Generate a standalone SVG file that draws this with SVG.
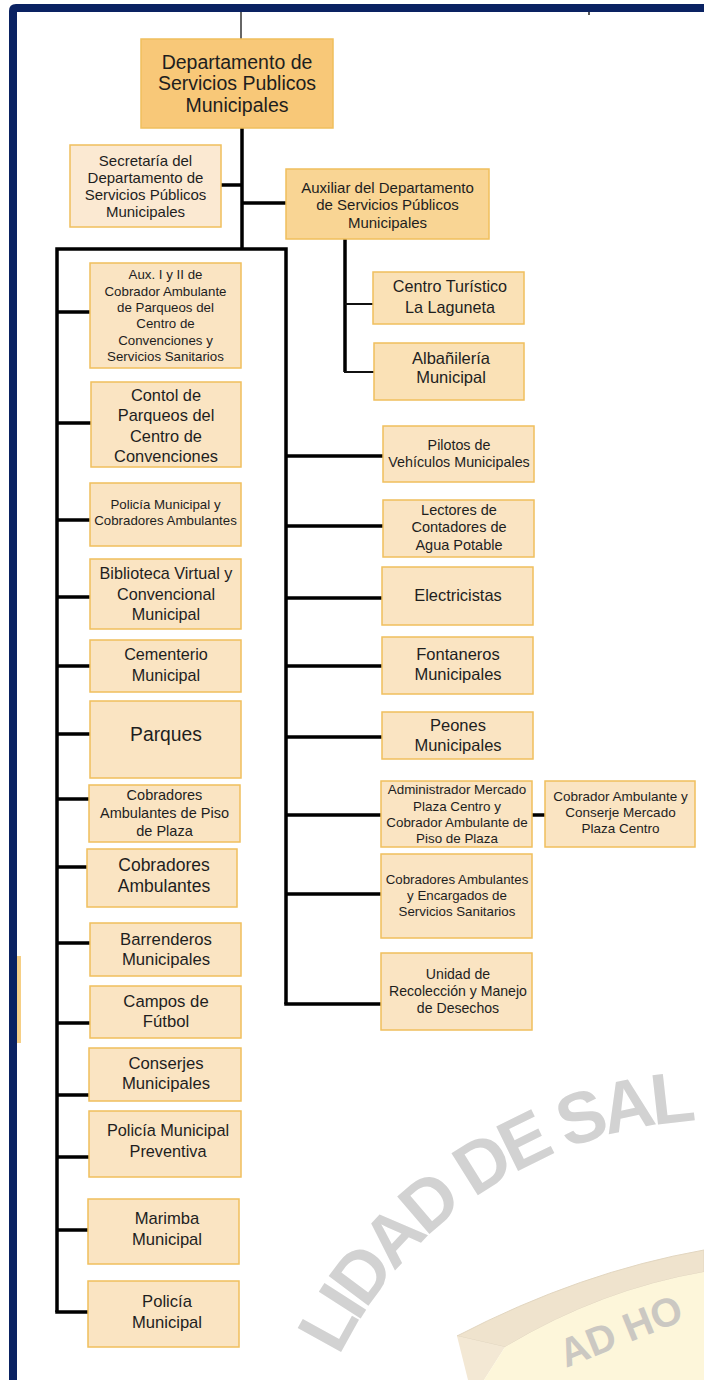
<svg xmlns="http://www.w3.org/2000/svg" width="704" height="1380" viewBox="0 0 704 1380">
<style>
.bx{stroke:#f0bf5c;stroke-width:1.5}
.f0{fill:#f8c878}
.f1{fill:#fae4c2}
.f2{fill:#fbe9d2}
.f3{fill:#f9d594}
.f4{fill:#fae1b6}
.t{font-family:"Liberation Sans",Arial,sans-serif;fill:#1e1e1e;text-anchor:middle}
.c{stroke:#000;stroke-width:3.5;fill:none;stroke-linecap:butt}
.c2{stroke:#111;stroke-width:2;fill:none}
.wm{font-family:"Liberation Sans",Arial,sans-serif;font-weight:bold;fill:#d2d2d2}
</style>
<rect x="0" y="0" width="704" height="1380" fill="#ffffff"/>
<defs>
<path id="arc" d="M309.5,1435 A425,425 0 0 1 932.5,1177"/>
</defs>
<g id="watermark">
<text class="wm" font-size="72" letter-spacing="-5"><textPath href="#arc" startOffset="84">LIDAD DE SAL</textPath></text>
<path d="M457,1336 Q580,1272 704,1250 L704,1272 Q600,1290 505,1347 Z" fill="#efe3cd" stroke="#e2d6c0" stroke-width="1"/>
<path d="M457,1336 L505,1347 L484,1380 L468,1380 Z" fill="#f3e8d4"/>
<path d="M505,1347 Q600,1290 704,1272 L704,1380 L484,1380 Z" fill="#fdf6da"/>
<text class="wm" font-size="40" style="fill:#cbc8c2" transform="translate(566,1368) rotate(-22)">AD HO</text>
</g>
<g id="frame">
<path d="M704,4 L16,4 Q9,4 9,11 L9,1380 L17,1380 L17,12 L704,12 Z" fill="#0a2262"/>
<line x1="589" y1="12" x2="589" y2="15" stroke="#222" stroke-width="1.5"/>
<rect x="17" y="956" width="4" height="87" fill="#f6cf85"/>
</g>
<g id="connectors">
<line x1="241" y1="12" x2="241" y2="39" stroke="#333" stroke-width="1.5"/>
<path class="c" d="M242,128 V249"/>
<path class="c" d="M221,185 H242"/>
<path class="c" d="M242,203 H286"/>
<path class="c" d="M345,239 V372"/>
<path class="c2" d="M345,304 H373"/>
<path class="c2" d="M344,372 H374"/>
<path class="c" d="M57,1312 V249 H286 V1004"/>
<path class="c" d="M57,312 H90 M57,423 H91 M57,520 H90 M57,597 H90 M57,666 H90 M57,734 H90 M57,799 H89 M57,867 H87 M57,943 H90 M57,1023 H90 M57,1095 H89 M57,1157 H89 M57,1230 H88 M55.25,1312 H88"/>
<path class="c" d="M286,456 H383 M286,526 H383 M286,598 H382 M286,666 H382 M286,737 H382 M286,815 H381 M286,894 H381 M284.25,1004 H381"/>
<path class="c" d="M532,815 H545"/>
</g>
<g id="n-main"><rect class="bx f0" x="141" y="39" width="192" height="89"/>
<text class="t" font-size="19.5"><tspan x="237" y="68.8">Departamento de</tspan><tspan x="237" y="90.3">Servicios Publicos</tspan><tspan x="237" y="111.8">Municipales</tspan></text></g>
<g id="n-secretaria"><rect class="bx f2" x="70" y="145" width="151" height="82"/>
<text class="t" font-size="15"><tspan x="145.5" y="165.8">Secretaría del</tspan><tspan x="145.5" y="182.8">Departamento de</tspan><tspan x="145.5" y="199.8">Servicios Públicos</tspan><tspan x="145.5" y="216.8">Municipales</tspan></text></g>
<g id="n-auxiliar"><rect class="bx f3" x="286" y="169" width="203" height="70"/>
<text class="t" font-size="15"><tspan x="387.5" y="192.8">Auxiliar del Departamento</tspan><tspan x="387.5" y="210.3">de Servicios Públicos</tspan><tspan x="387.5" y="227.8">Municipales</tspan></text></g>
<g id="n-aux12"><rect class="bx f1" x="90" y="263" width="151" height="105"/>
<text class="t" font-size="13.3"><tspan x="165.5" y="279.2">Aux. I y II de</tspan><tspan x="165.5" y="295.6">Cobrador Ambulante</tspan><tspan x="165.5" y="312">de Parqueos del</tspan><tspan x="165.5" y="328.4">Centro de</tspan><tspan x="165.5" y="344.8">Convenciones y</tspan><tspan x="165.5" y="361.2">Servicios Sanitarios</tspan></text></g>
<g id="n-contol"><rect class="bx f1" x="91" y="382" width="150" height="85"/>
<text class="t" font-size="16.4"><tspan x="166" y="400.5">Contol de</tspan><tspan x="166" y="421">Parqueos del</tspan><tspan x="166" y="441.5">Centro de</tspan><tspan x="166" y="462">Convenciones</tspan></text></g>
<g id="n-policia-cobradores"><rect class="bx f1" x="90" y="483" width="151" height="63"/>
<text class="t" font-size="13.3"><tspan x="165.5" y="509">Policía Municipal y</tspan><tspan x="165.5" y="524.7">Cobradores Ambulantes</tspan></text></g>
<g id="n-biblioteca"><rect class="bx f1" x="90" y="559" width="151" height="70"/>
<text class="t" font-size="16.2"><tspan x="166" y="579.4">Biblioteca Virtual y</tspan><tspan x="166" y="600">Convencional</tspan><tspan x="166" y="619.7">Municipal</tspan></text></g>
<g id="n-cementerio"><rect class="bx f1" x="90" y="640" width="151" height="52"/>
<text class="t" font-size="16.2"><tspan x="166" y="660.4">Cementerio</tspan><tspan x="166" y="681">Municipal</tspan></text></g>
<g id="n-parques"><rect class="bx f1" x="90" y="701" width="151" height="77"/>
<text class="t" font-size="19.3"><tspan x="166" y="740.8">Parques</tspan></text></g>
<g id="n-cobradores-piso"><rect class="bx f1" x="89" y="785" width="151" height="57"/>
<text class="t" font-size="14.5"><tspan x="164.5" y="800.4">Cobradores</tspan><tspan x="164.5" y="818.4">Ambulantes de Piso</tspan><tspan x="164.5" y="835.8">de Plaza</tspan></text></g>
<g id="n-cobradores-amb"><rect class="bx f1" x="87" y="849" width="150" height="58"/>
<text class="t" font-size="17.5"><tspan x="164" y="871.4">Cobradores</tspan><tspan x="164" y="892.1">Ambulantes</tspan></text></g>
<g id="n-barrenderos"><rect class="bx f1" x="90" y="923" width="151" height="53"/>
<text class="t" font-size="16.7"><tspan x="166" y="944.8">Barrenderos</tspan><tspan x="166" y="965.2">Municipales</tspan></text></g>
<g id="n-campos"><rect class="bx f1" x="90" y="986" width="151" height="52"/>
<text class="t" font-size="16.7"><tspan x="166" y="1006.5">Campos de</tspan><tspan x="166" y="1027.2">Fútbol</tspan></text></g>
<g id="n-conserjes"><rect class="bx f1" x="89" y="1048" width="152" height="53"/>
<text class="t" font-size="16.7"><tspan x="166" y="1068.5">Conserjes</tspan><tspan x="166" y="1089.2">Municipales</tspan></text></g>
<g id="n-preventiva"><rect class="bx f1" x="89" y="1111" width="152" height="66"/>
<text class="t" font-size="16.3"><tspan x="168" y="1135.7">Policía Municipal</tspan><tspan x="168" y="1156.7">Preventiva</tspan></text></g>
<g id="n-marimba"><rect class="bx f1" x="88" y="1199" width="151" height="65"/>
<text class="t" font-size="16.6"><tspan x="167" y="1224.1">Marimba</tspan><tspan x="167" y="1244.8">Municipal</tspan></text></g>
<g id="n-policia"><rect class="bx f1" x="88" y="1281" width="151" height="66"/>
<text class="t" font-size="16.6"><tspan x="167" y="1306.5">Policía</tspan><tspan x="167" y="1327.5">Municipal</tspan></text></g>
<g id="n-centro"><rect class="bx f4" x="373" y="272" width="151" height="52"/>
<text class="t" font-size="16.2"><tspan x="450" y="292.4">Centro Turístico</tspan><tspan x="450" y="313.3">La Laguneta</tspan></text></g>
<g id="n-albanileria"><rect class="bx f4" x="374" y="343" width="150" height="57"/>
<text class="t" font-size="16.5"><tspan x="451" y="364">Albañilería</tspan><tspan x="451" y="383">Municipal</tspan></text></g>
<g id="n-pilotos"><rect class="bx f1" x="383" y="426" width="151" height="56"/>
<text class="t" font-size="14.3"><tspan x="459" y="449.7">Pilotos de</tspan><tspan x="459" y="467">Vehículos Municipales</tspan></text></g>
<g id="n-lectores"><rect class="bx f1" x="383" y="500" width="151" height="57"/>
<text class="t" font-size="14.5"><tspan x="459" y="515.1">Lectores de</tspan><tspan x="459" y="532.4">Contadores de</tspan><tspan x="459" y="550.1">Agua Potable</tspan></text></g>
<g id="n-electricistas"><rect class="bx f1" x="382" y="567" width="151" height="58"/>
<text class="t" font-size="16.4"><tspan x="458" y="601.4">Electricistas</tspan></text></g>
<g id="n-fontaneros"><rect class="bx f1" x="382" y="637" width="151" height="57"/>
<text class="t" font-size="16.5"><tspan x="458" y="659.8">Fontaneros</tspan><tspan x="458" y="680.1">Municipales</tspan></text></g>
<g id="n-peones"><rect class="bx f1" x="382" y="712" width="151" height="47"/>
<text class="t" font-size="16.5"><tspan x="458" y="730.8">Peones</tspan><tspan x="458" y="750.8">Municipales</tspan></text></g>
<g id="n-administrador"><rect class="bx f1" x="381" y="781" width="151" height="66"/>
<text class="t" font-size="13.4"><tspan x="457" y="794">Administrador Mercado</tspan><tspan x="457" y="810.7">Plaza Centro y</tspan><tspan x="457" y="827.4">Cobrador Ambulante de</tspan><tspan x="457" y="843.4">Piso de Plaza</tspan></text></g>
<g id="n-cobrador-conserje"><rect class="bx f1" x="545" y="781" width="150" height="66"/>
<text class="t" font-size="13.5"><tspan x="620.5" y="800.7">Cobrador Ambulante y</tspan><tspan x="620.5" y="817.4">Conserje Mercado</tspan><tspan x="620.5" y="833.4">Plaza Centro</tspan></text></g>
<g id="n-cobradores-encargados"><rect class="bx f1" x="381" y="854" width="151" height="84"/>
<text class="t" font-size="13.3"><tspan x="457" y="884">Cobradores Ambulantes</tspan><tspan x="457" y="900">y Encargados de</tspan><tspan x="457" y="915.7">Servicios Sanitarios</tspan></text></g>
<g id="n-unidad"><rect class="bx f1" x="381" y="953" width="151" height="77"/>
<text class="t" font-size="14.1"><tspan x="458" y="979.2">Unidad de</tspan><tspan x="458" y="996.2">Recolección y Manejo</tspan><tspan x="458" y="1013.2">de Desechos</tspan></text></g>
</svg>
